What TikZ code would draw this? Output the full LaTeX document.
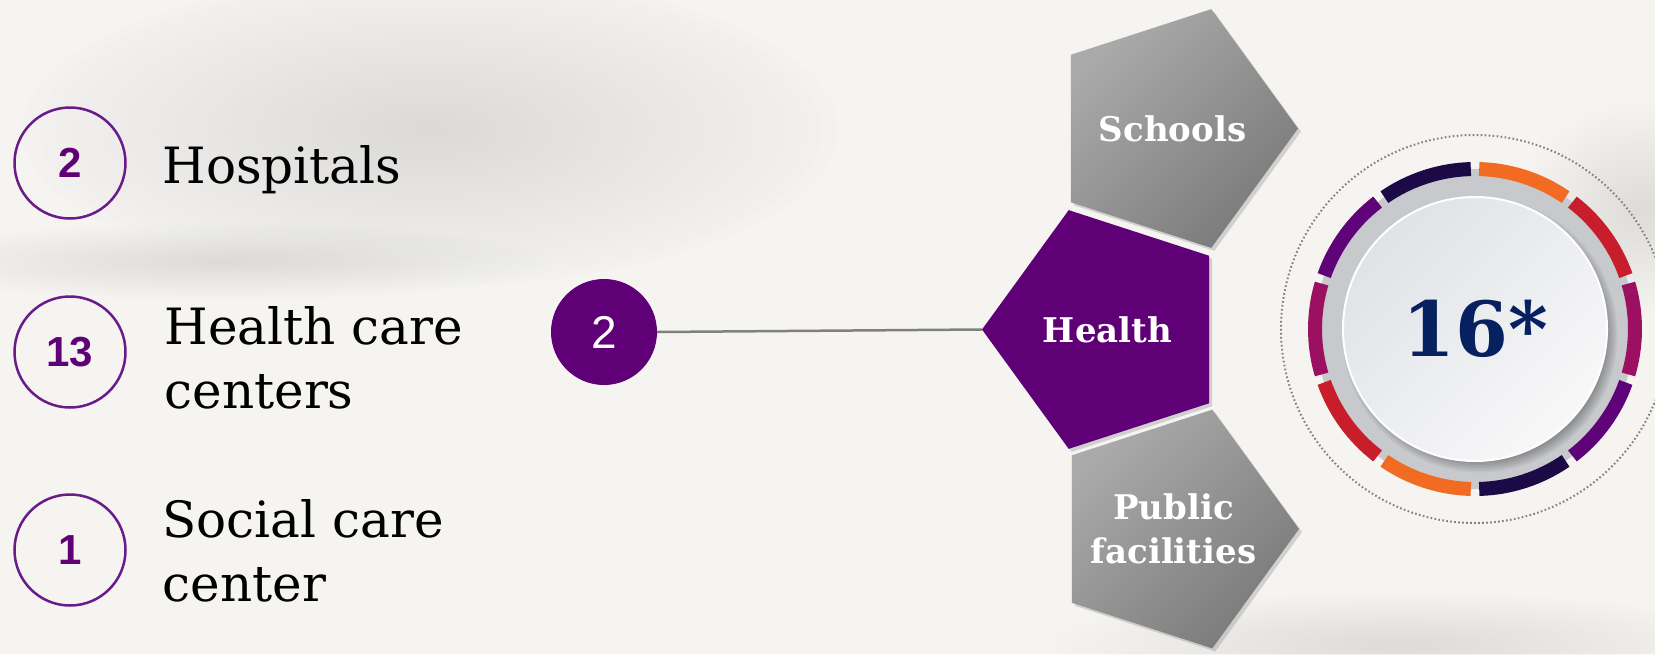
\documentclass[tikz,border=0pt]{standalone}
\usepackage{fontspec}
\setmainfont{DejaVu Serif}
\newfontfamily\digitfont{Liberation Sans}
\usetikzlibrary{shapes.geometric,shadows}

\definecolor{bgwhite}{RGB}{245,244,241}
\definecolor{haze}{RGB}{190,190,190}
\definecolor{plum}{RGB}{95,0,118}
\definecolor{plumline}{RGB}{106,27,138}
\definecolor{linegrey}{RGB}{128,128,128}
\definecolor{sectorlight}{RGB}{170,170,170}
\definecolor{sectordark}{RGB}{122,122,122}
\definecolor{ringband}{RGB}{199,201,204}
\definecolor{segorange}{RGB}{242,107,34}
\definecolor{segred}{RGB}{200,30,43}
\definecolor{segmagenta}{RGB}{155,16,96}
\definecolor{segpurple}{RGB}{95,4,120}
\definecolor{segnavy}{RGB}{27,10,69}
\definecolor{discdark}{RGB}{224,226,230}
\definecolor{disclight}{RGB}{248,248,249}
\definecolor{bignavy}{RGB}{6,32,96}

\begin{document}
\begin{tikzpicture}[
        x=1pt, y=-1pt, % one unit is one pixel, y grows downwards
        numring/.style = {circle, draw=plumline, line width=2.5pt, minimum size=111pt, inner sep=0pt, text=plum, font=\digitfont\bfseries\fontsize{42}{42}\selectfont},
        item/.style = {anchor=base west, align=left, font=\fontsize{50}{64}\selectfont}, % anchored at the last line
        sector/.style = {regular polygon, regular polygon sides=5, minimum size=251pt, inner sep=-30pt, text=white, align=center, font=\bfseries\fontsize{34}{44}\selectfont, drop shadow={shadow xshift=3pt, shadow yshift=-3pt, opacity=.3}},
        greysector/.style = {sector, shape border rotate=-90, top color=sectorlight, bottom color=sectordark, shading angle=45},
        arcpiece/.style = {line width=14pt}, % coloured pieces of the ring
    ]

    % background
    \fill[bgwhite] (0,0) rectangle (1655,654);
    \useasboundingbox (0,0) rectangle (1655,654);
    \foreach \k in {1,...,24} {
        \fill[haze, opacity=.018] (430,130) ellipse[x radius=17*\k, y radius=6.5*\k];
        \fill[haze, opacity=.012] (1640,210) ellipse[x radius=5*\k, y radius=4.5*\k];
        \fill[haze, opacity=.012] (1400,645) ellipse[x radius=15*\k, y radius=2.2*\k];
        \fill[haze, opacity=.01] (220,262) ellipse[x radius=14*\k, y radius=1.6*\k];
    }

    % left list
    \node[numring] (hospnum) at (70,163) {2};
    \node[item] (hosplabel) at (159,183) {Hospitals};
    \node[numring] (carenum) at (70,352) {13};
    \node[item] (carelabel) at (161,408) {Health care\\centers};
    \node[numring] (socialnum) at (70,550) {1};
    \node[item] (sociallabel) at (159,601) {Social care\\center};

    % pentagons
    \node[greysector] (schools) at (1172.5,128.5) {Schools};
    \node[sector, shape border rotate=90, fill=plum] (health) at (1107.5,329.5) {Health};
    \node[greysector] (public) at (1173.5,529) {Public\\facilities};

    \node[circle, fill=plum, minimum size=106pt, text=white, font=\digitfont\fontsize{46}{46}\selectfont] (healthnum) at (604,332) {2};
    \draw[linegrey, line width=2.5pt] (healthnum.east) -- (health.corner 1);

    % ring
    \coordinate (ringc) at (1475,329);
    \draw[linegrey, line width=2pt, dash pattern=on 1.6pt off 2.4pt] (ringc) circle[radius=194];
    \fill[ringband] (ringc) circle[radius=160];
    \foreach \c [count=\i from 0] in {segorange,segred,segmagenta,segpurple,segnavy,segorange,segred,segmagenta,segpurple,segnavy}
        \draw[arcpiece, \c] ([shift={(36*\i-88.5:160)}]ringc) arc[start angle=36*\i-88.5, end angle=36*\i-55.5, radius=160];
    \foreach \k in {0,...,7}
        \fill[black, opacity=.04] ([shift={(5,6)}]ringc) circle[radius=127+1.5*\k];
    \node[circle, minimum size=264pt, inner sep=0pt, top color=discdark, bottom color=disclight, shading angle=45, draw=white, line width=2pt, text=bignavy, font=\bfseries\fontsize{76}{76}\selectfont] (total) at (ringc) {16*};
\end{tikzpicture}
\end{document}
